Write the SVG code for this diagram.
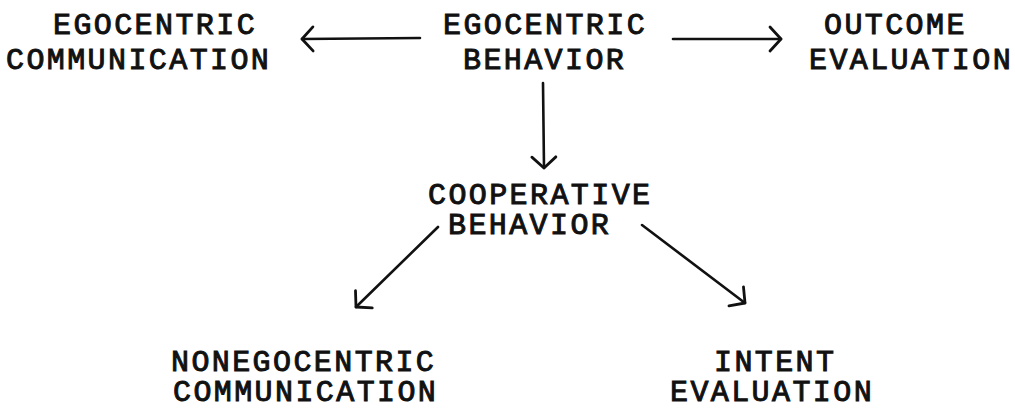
<svg xmlns="http://www.w3.org/2000/svg" width="1015" height="410" viewBox="0 0 1015 410">
<defs>
<style>
.t{font-family:"Liberation Mono","Courier New",monospace;font-size:30px;letter-spacing:2.4px;fill:#111;stroke:#111;stroke-width:1}
.c{stroke:#111;stroke-width:2.6;fill:none;stroke-linecap:round;stroke-linejoin:round}
</style>
<marker id="ah" markerUnits="userSpaceOnUse" markerWidth="30" markerHeight="30" viewBox="-15 -15 30 30" refX="0" refY="0" orient="auto">
<path d="M -11 -12 L 0 0 L -11 12" fill="none" stroke="#111" stroke-width="2.8" stroke-linecap="round" stroke-linejoin="round"/>
</marker>
</defs>
<rect width="1015" height="410" fill="#fff"/>
<g id="egocentric-communication">
<text class="t" x="53" y="34">EGOCENTRIC</text>
<text class="t" x="6" y="69">COMMUNICATION</text>
</g>
<g id="egocentric-behavior">
<text class="t" x="443" y="34">EGOCENTRIC</text>
<text class="t" x="463" y="69">BEHAVIOR</text>
</g>
<g id="outcome-evaluation">
<text class="t" x="824" y="34">OUTCOME</text>
<text class="t" x="809" y="69">EVALUATION</text>
</g>
<g id="cooperative-behavior">
<text class="t" x="428" y="204">COOPERATIVE</text>
<text class="t" x="448" y="234">BEHAVIOR</text>
</g>
<g id="nonegocentric-communication">
<text class="t" x="171" y="371">NONEGOCENTRIC</text>
<text class="t" x="173" y="401">COMMUNICATION</text>
</g>
<g id="intent-evaluation">
<text class="t" x="714" y="371">INTENT</text>
<text class="t" x="670" y="401">EVALUATION</text>
</g>
<g id="connectors">
<line class="c" x1="420" y1="38" x2="302" y2="39" marker-end="url(#ah)"/>
<line class="c" x1="673" y1="39" x2="781" y2="39" marker-end="url(#ah)"/>
<line class="c" x1="543" y1="83" x2="544" y2="168" marker-end="url(#ah)"/>
<line class="c" x1="438" y1="227" x2="356" y2="307" marker-end="url(#ah)"/>
<line class="c" x1="642" y1="225" x2="745" y2="303" marker-end="url(#ah)"/>
</g>
</svg>
